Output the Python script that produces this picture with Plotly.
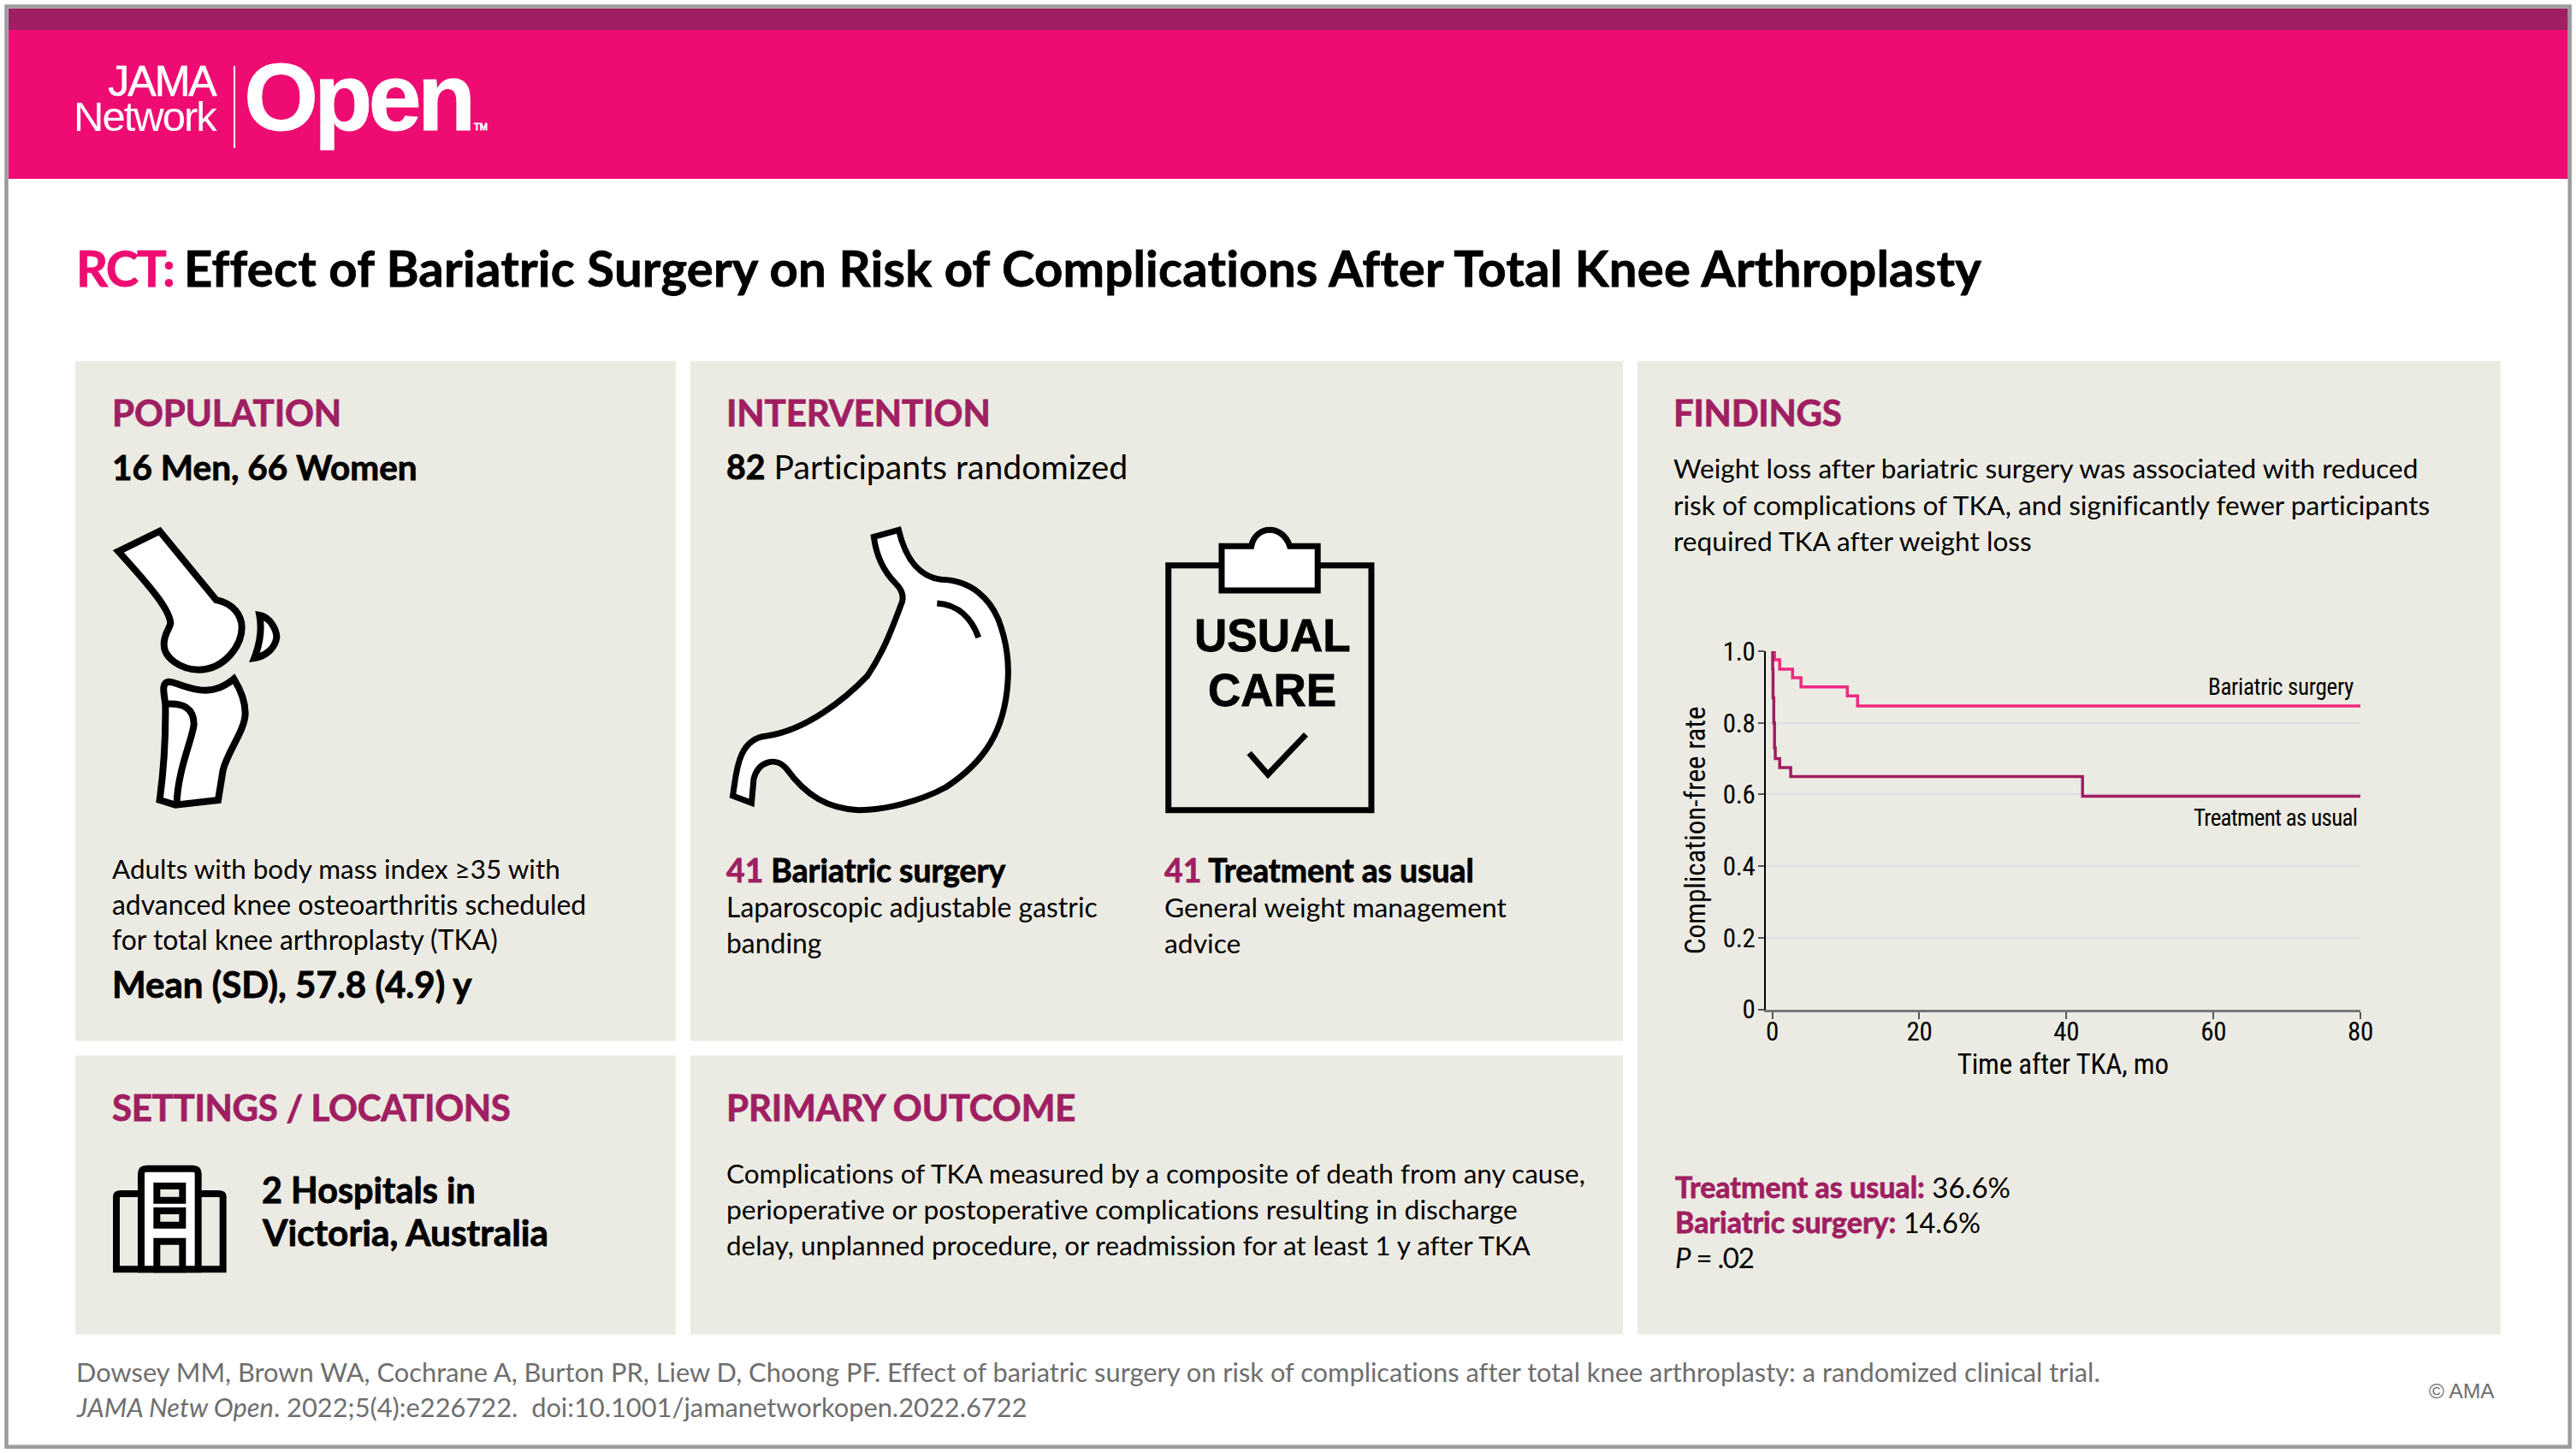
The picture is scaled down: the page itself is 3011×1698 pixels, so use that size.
import plotly.graph_objects as go

W, H = 3011, 1698
PINK, PLUM, PANEL = "#EE0C72", "#A01E62", "#ECEBE3"
BODY = "Lato"
NARROW = "Roboto"

# Kaplan-Meier data
months_bariatric = [0, 0.3, 1.0, 2.75, 3.9, 10.2, 11.6, 80]
rate_bariatric = [1.0, 0.976, 0.95, 0.926, 0.90, 0.875, 0.847, 0.847]
months_usual = [0, 0.05, 0.1, 0.2, 0.3, 0.4, 1.0, 2.5, 42.2, 80]
rate_usual = [1.0, 0.95, 0.87, 0.80, 0.73, 0.70, 0.675, 0.65, 0.595, 0.595]
x_ticks = [0, 20, 40, 60, 80]
y_ticks = [0, 0.2, 0.4, 0.6, 0.8, 1.0]
y_tick_labels = ["0", "0.2", "0.4", "0.6", "0.8", "1.0"]


def px(x):
    return x / W


def py(y):
    return 1 - y / H


def rect(x0, y0, x1, y1, fill, line=None, lw=0):
    return dict(type="rect", xref="paper", yref="paper", x0=px(x0), x1=px(x1), y0=py(y0), y1=py(y1),
                fillcolor=fill, line=dict(color=line or fill, width=lw), layer="below")


def icon(path, ox, oy, sx, sy, fill="rgba(0,0,0,0)", lw=8):
    out = []
    for tok in path.split():
        if tok[0].isalpha():
            out.append(tok[0])
            tok = tok[1:]
            if not tok:
                continue
        a, b = tok.split(",")
        out.append(f"{px(ox + float(a) / sx):.6f},{py(oy + float(b) / sy):.6f}")
    return dict(type="path", xref="paper", yref="paper", path=" ".join(out), fillcolor=fill,
                line=dict(color="black", width=lw), layer="below")


shapes = [
    rect(0, 0, W, H, "white"),
    rect(7.5, 7.6, 3003.7, 1690.7, "white", "#9C9C9C", 4.5),
    rect(10, 10, 3001.5, 35, PLUM),
    rect(10, 35, 3001.5, 209, PINK),
    rect(273, 77, 275, 173, "white"),
    rect(88, 422, 790, 1216.5, PANEL),
    rect(807, 422, 1897, 1216.5, PANEL),
    rect(88, 1233.5, 790, 1559.5, PANEL),
    rect(807, 1233.5, 1897, 1559.5, PANEL),
    rect(1914, 422, 2922.7, 1559.5, PANEL),
]

K = dict(ox=90, oy=590, sx=3, sy=3, lw=8)
shapes += [
    icon("M145,163 L290,92 L488,333 C550,345 578,390 578,430 C578,490 520,578 425,578 C370,578 305,540 305,490 C305,450 325,435 328,415 C325,370 270,300 145,163 Z", fill="white", **K),
    icon("M640,387 C680,395 700,440 700,465 C695,500 665,530 622,537 C640,490 650,440 640,387 Z", fill="white", **K),
    icon("M320,620 C350,620 390,650 450,650 C490,650 520,635 550,610 C575,650 590,690 590,730 C590,790 530,860 512,930 L495,1035 L345,1052 L290,1035 C300,960 312,850 310,700 C305,660 295,625 320,620 Z", fill="white", **K),
    icon("M315,698 C370,695 410,710 410,770 C405,820 350,940 350,1052", **K),
]
S = dict(ox=830, oy=590, sx=1.96, sy=3, lw=7)
shapes += [
    icon("M375,112 L432,88 C445,170 470,250 530,262 C600,265 640,330 660,400 C680,480 685,560 682,620 C675,790 630,900 540,990 C480,1040 400,1070 340,1070 C270,1065 220,1020 175,925 C150,880 110,900 100,960 L95,1045 L52,1020 C60,950 60,820 130,810 C220,790 310,680 360,600 C400,510 420,420 440,340 C445,310 435,290 425,275 C395,230 380,170 375,112 Z", fill="white", **S),
    icon("M520,345 C570,350 600,400 615,465", **S),
    icon("M1050,212 L1515,212 L1515,1070 L1050,1070 Z", **S),
    icon("M1172,145 L1240,145 C1245,105 1265,88 1282,88 C1300,88 1320,105 1328,145 L1392,145 L1392,300 L1172,300 Z", fill="white", **S),
    icon("M1235,870 L1278,945 L1365,805", **S),
]
B = dict(ox=100, oy=1330, sx=3, sy=3, lw=8)
shapes += [
    icon("M108,460 L108,205 Q108,195 125,195 L465,195 Q482,195 482,205 L482,460 Z", **B),
    icon("M195,460 L195,125 Q195,107 215,107 L375,107 Q395,107 395,125 L395,460 Z", fill="white", **B),
    icon("M250,168 L340,168 L340,218 L250,218 Z", fill=PANEL, **B),
    icon("M250,255 L340,255 L340,305 L250,305 Z", fill=PANEL, **B),
    icon("M250,460 L250,362 L340,362 L340,460 Z", fill=PANEL, **B),
]

ann = []
HEAVY = 0.8


def T(x, y, s, size, color="black", bold=False, font=BODY, anchor="left", sp=0.01):
    style = [f"letter-spacing:{sp}px"]
    if bold:
        style.append(f"font-weight:bold;stroke:{color};stroke-width:{HEAVY}px")
    s = f'<span style="{";".join(style)}">{s}</span>'
    ann.append(dict(text=s, x=px(x), y=py(y), xref="paper", yref="paper", showarrow=False, xanchor=anchor,
                    yanchor="middle", align=anchor, borderpad=0,
                    font=dict(size=size, color=color, family=font)))


def C(s, c=PLUM, extra=""):
    return f'<span style="fill:{c};stroke:{c};{extra}">{s}</span>'


def BLD(s, c="black", size=None):
    fs = f"font-size:{size}px;" if size else ""
    return f'<span style="{fs}font-weight:bold;fill:{c};stroke:{c};stroke-width:{HEAVY}px">{s}</span>'


BS = 31.6
HS = 42
F = 30.8

T(88, 313, C("RCT: ", PINK, "letter-spacing:-2px") + "Effect of Bariatric Surgery on Risk of Complications After Total Knee Arthroplasty",
  58, bold=True, sp=0.24)
T(255, 115, '<span style="font-size:50px;letter-spacing:-2px;stroke:white;stroke-width:0.6px">JAMA</span><br>'
            '<span style="font-size:49px;letter-spacing:-2px">Network</span>',
  31.5, "white", font="Liberation Sans", anchor="right")
T(284, 113, 'Open<span style="font-size:11px;letter-spacing:0;font-weight:normal"> TM</span>', 112, "white", bold=True,
  font="Liberation Sans", sp=-5)

for x, y, s, hs in [(130, 482, "POPULATION", -0.1), (848, 482, "INTERVENTION", -0.1), (130, 1294, "SETTINGS / LOCATIONS", -0.3),
                    (848, 1294, "PRIMARY OUTCOME", -0.1), (1955, 482, "FINDINGS", -0.3)]:
    T(x, y, s, HS, PLUM, bold=True, sp=hs)

T(130, 545, "16 Men, 66 Women", 40.5, bold=True)
for y, s, z in [(1015, "Adults with body mass index ≥35 with", 31.4), (1057, "advanced knee osteoarthritis scheduled", 31.9),
                (1098, "for total knee arthroplasty (TKA)", 31.9)]:
    T(130, y, s, z)
T(130, 1150, "Mean (SD), 57.8 (4.9) y", 42, bold=True)

T(848, 544, BLD("82") + " Participants randomized", 39.2)
T(848, 1016, C("41") + " Bariatric surgery", 37.3, bold=True)
T(848, 1060, "Laparoscopic adjustable gastric", 31.9)
T(848, 1102, "banding", 31.9)
T(1360, 1016, C("41") + " Treatment as usual", 37.3, bold=True)
T(1360, 1060, "General weight management", 31.8)
T(1360, 1102, "advice", 31.8)
T(1487, 742, "USUAL", 53, bold=True, font="Liberation Sans", anchor="center")
T(1487, 806, "CARE", 53, bold=True, font="Liberation Sans", anchor="center")

T(305, 1390, "2 Hospitals in", 41.3, bold=True)
T(305, 1439, "Victoria, Australia", 42.3, bold=True)

for y, s, z in [(1371, "Complications of TKA measured by a composite of death from any cause,", 31.5),
                (1413, "perioperative or postoperative complications resulting in discharge", 31.8),
                (1455, "delay, unplanned procedure, or readmission for at least 1 y after TKA", 31.4)]:
    T(848, y, s, z)

for y, s in [(547, "Weight loss after bariatric surgery was associated with reduced"),
             (590, "risk of complications of TKA, and significantly fewer participants"),
             (632, "required TKA after weight loss")]:
    T(1955, y, s, BS)

T(1957, 1386, BLD("Treatment as usual:", PLUM, 34) + " 36.6%", 33)
T(1957, 1427, BLD("Bariatric surgery:", PLUM, 34) + " 14.6%", 32.5)
T(1957, 1469, "<i>P</i> = .02", 33, sp=-1.3)

GREY = "#6E6E6E"
T(88, 1603, "Dowsey MM, Brown WA, Cochrane A, Burton PR, Liew D, Choong PF. Effect of bariatric surgery on risk of complications after total knee arthroplasty: a randomized clinical trial.", F, GREY)
T(88, 1644, "<i>JAMA Netw Open</i>. 2022;5(4):e226722.  doi:10.1001/jamanetworkopen.2022.6722", F, GREY)
T(2838, 1625, "© AMA", 24.5, GREY, font="Liberation Sans")

fig = go.Figure()
fig.add_trace(go.Scatter(x=months_bariatric, y=rate_bariatric, mode="lines", line=dict(color="#EE2A80", width=3.5, shape="hv"),
                         cliponaxis=False, showlegend=False, name="Bariatric surgery"))
fig.add_trace(go.Scatter(x=months_usual, y=rate_usual, mode="lines", line=dict(color=PLUM, width=3.5, shape="hv"),
                         cliponaxis=False, showlegend=False, name="Treatment as usual"))


def N(s, sp=-0.3):
    return f'<span style="letter-spacing:{sp}px;font-stretch:75%">{s}</span>'


x0_px, xN_px = 2071.6, 2759.0
sp = (xN_px - x0_px) / 80
left_px = 2063.5
fig.update_layout(
    template=None,
    width=W, height=H, margin=dict(l=0, r=0, t=0, b=0, pad=0), paper_bgcolor="white", plot_bgcolor="rgba(0,0,0,0)",
    shapes=shapes, annotations=ann, showlegend=False,
    xaxis=dict(domain=[px(left_px), px(xN_px)], range=[-(x0_px - left_px) / sp, 80], tickvals=x_ticks,
               ticktext=[N(v) for v in x_ticks], automargin=False, ticklabelstandoff=-12,
               ticks="outside", ticklen=8, tickwidth=1.5, tickcolor="#555", showgrid=False, zeroline=False,
               showline=True, linecolor="#777", linewidth=3, tickfont=dict(family=NARROW, size=31, color="black"),
               title=dict(text=N("Time after TKA, mo", -0.2), standoff=0, font=dict(family=NARROW, size=33, color="black"))),
    yaxis=dict(domain=[py(1179.6), py(761)], range=[0, 1], tickvals=y_ticks, ticktext=[N(v) for v in y_tick_labels],
               automargin=False, ticklabelstandoff=-3,
               ticks="outside", ticklen=7, tickwidth=1.5, tickcolor="#555", showgrid=True, gridcolor="#DEDEDE", gridwidth=2,
               zeroline=False, showline=True, linecolor="black", linewidth=1.5,
               tickfont=dict(family=NARROW, size=31, color="black"),
               title=dict(text=N("Complication-free rate", 0), standoff=10, font=dict(family=NARROW, size=33, color="black"))),
)
fig.add_annotation(text=N("Bariatric surgery"), x=80, xanchor="right", xref="x", y=0.90, yref="y", yanchor="middle", showarrow=False,
                   xshift=-6, font=dict(family=NARROW, size=27, color="black"))
fig.add_annotation(text=N("Treatment as usual", -0.7), x=80, xanchor="right", xref="x", y=0.533, yref="y", yanchor="middle", showarrow=False,
                   xshift=-2, font=dict(family=NARROW, size=27, color="black"))

fig.write_html("out.html", config={"displayModeBar": False},
               post_script="document.body.style.margin='0';document.documentElement.style.overflow='hidden';")
